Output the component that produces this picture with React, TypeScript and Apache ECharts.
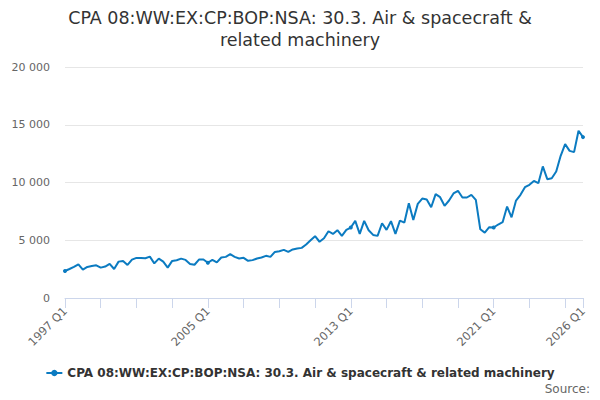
import React, { useEffect, useRef } from "react";
import * as echarts from "echarts";

const TITLE = "CPA 08:WW:EX:CP:BOP:NSA: 30.3. Air & spacecraft &\nrelated machinery";
const SERIES_NAME = "CPA 08:WW:EX:CP:BOP:NSA: 30.3. Air & spacecraft & related machinery";

const firstYear = 1997;
const lastYear = 2026;

const categories: string[] = [];
for (let y = firstYear; y <= lastYear; y++) {
  for (let q = 1; q <= 4; q++) {
    if (y === lastYear && q > 1) break;
    categories.push(`${y} Q${q}`);
  }
}

const values: number[] = [
  2340, 2510, 2690, 2920, 2460, 2690, 2770, 2830, 2630, 2720,
  2950, 2510, 3150, 3210, 2860, 3320, 3470, 3470, 3440, 3580,
  3000, 3410, 3150, 2630, 3210, 3270, 3410, 3300, 2950, 2880,
  3330, 3330, 3050, 3300, 3080, 3510, 3560, 3790, 3560, 3420,
  3480, 3220, 3280, 3420, 3510, 3650, 3560, 3990, 4050, 4170,
  3990, 4200, 4280, 4340, 4630, 5000, 5350, 4870, 5170, 5780,
  5550, 5870, 5380, 5900, 6100, 6680, 5550, 6680, 5870, 5460,
  5380, 6470, 5900, 6650, 5550, 6700, 6530, 8210, 6760, 8150,
  8610, 8530, 7860, 8990, 8730, 7980, 8440, 9050, 9280, 8700,
  8700, 8930, 8500, 5950, 5660, 6130, 6100, 6360, 6560, 7920,
  6990, 8440, 8930, 9590, 9800, 10140, 9940, 11390, 10290, 10370,
  10950, 12310, 13320, 12740, 12630, 14480, 13930,
];

const yTicks = [0, 5000, 10000, 15000, 20000];

const FONT = "DejaVu Sans";
const LINE_COLOR = "#0b7bc1";

function fmt(v: number): string {
  const s = String(Math.round(v));
  return s.replace(/\B(?=(\d{3})+(?!\d))/g, " ");
}

export default function App() {
  const ref = useRef<HTMLDivElement>(null);
  useEffect(() => {
    document.body.style.margin = "0";
    if (!ref.current) return;
    const chart = echarts.init(ref.current, undefined, { renderer: "svg" });
    const lastIdx = categories.length - 1;
    chart.setOption({
      animation: false,
      backgroundColor: "#ffffff",
      title: {
        text: TITLE,
        left: "center",
        top: 2,
        textStyle: {
          fontFamily: FONT,
          fontSize: 17.5,
          fontWeight: "normal",
          color: "#333333",
          lineHeight: 22,
        },
      },
      grid: { left: 65, right: 17, top: 67, bottom: 102, containLabel: false },
      legend: {
        top: 362,
        left: "center",
        itemWidth: 16,
        itemHeight: 8,
        textStyle: { fontFamily: FONT, fontSize: 12, fontWeight: "bold", color: "#333333" },
        data: [SERIES_NAME],
      },
      graphic: [
        {
          type: "text",
          right: 10,
          top: 383,
          style: { text: "Source:", fontFamily: FONT, fontSize: 12, fill: "#666666" },
        },
      ],
      xAxis: {
        type: "category",
        data: categories,
        boundaryGap: false,
        axisLine: { lineStyle: { color: "#ccd6eb", width: 1 } },
        axisTick: {
          show: true,
          length: 10,
          interval: (i: number) => i % 8 === 0 || i === lastIdx,
          lineStyle: { color: "#ccd6eb" },
        },
        axisLabel: {
          interval: (i: number) => i % 32 === 0 || i === lastIdx,
          rotate: 45,
          fontFamily: FONT,
          fontSize: 11.5,
          color: "#666666",
          margin: 11,
        },
        splitLine: { show: false },
      },
      yAxis: {
        type: "value",
        min: yTicks[0],
        max: yTicks[yTicks.length - 1],
        interval: 5000,
        axisLine: { show: false },
        axisTick: { show: false },
        axisLabel: {
          formatter: (v: number) => fmt(v),
          fontFamily: FONT,
          fontSize: 11,
          color: "#666666",
          margin: 15,
        },
        splitLine: { lineStyle: { color: "#e6e6e6" } },
      },
      series: [
        {
          name: SERIES_NAME,
          type: "line",
          data: values,
          symbol: "circle",
          symbolSize: 4,
          lineStyle: { width: 2, color: LINE_COLOR },
          itemStyle: { color: LINE_COLOR },
        },
      ],
    });
    return () => chart.dispose();
  }, []);
  return <div ref={ref} style={{ width: 600, height: 400 }} />;
}
